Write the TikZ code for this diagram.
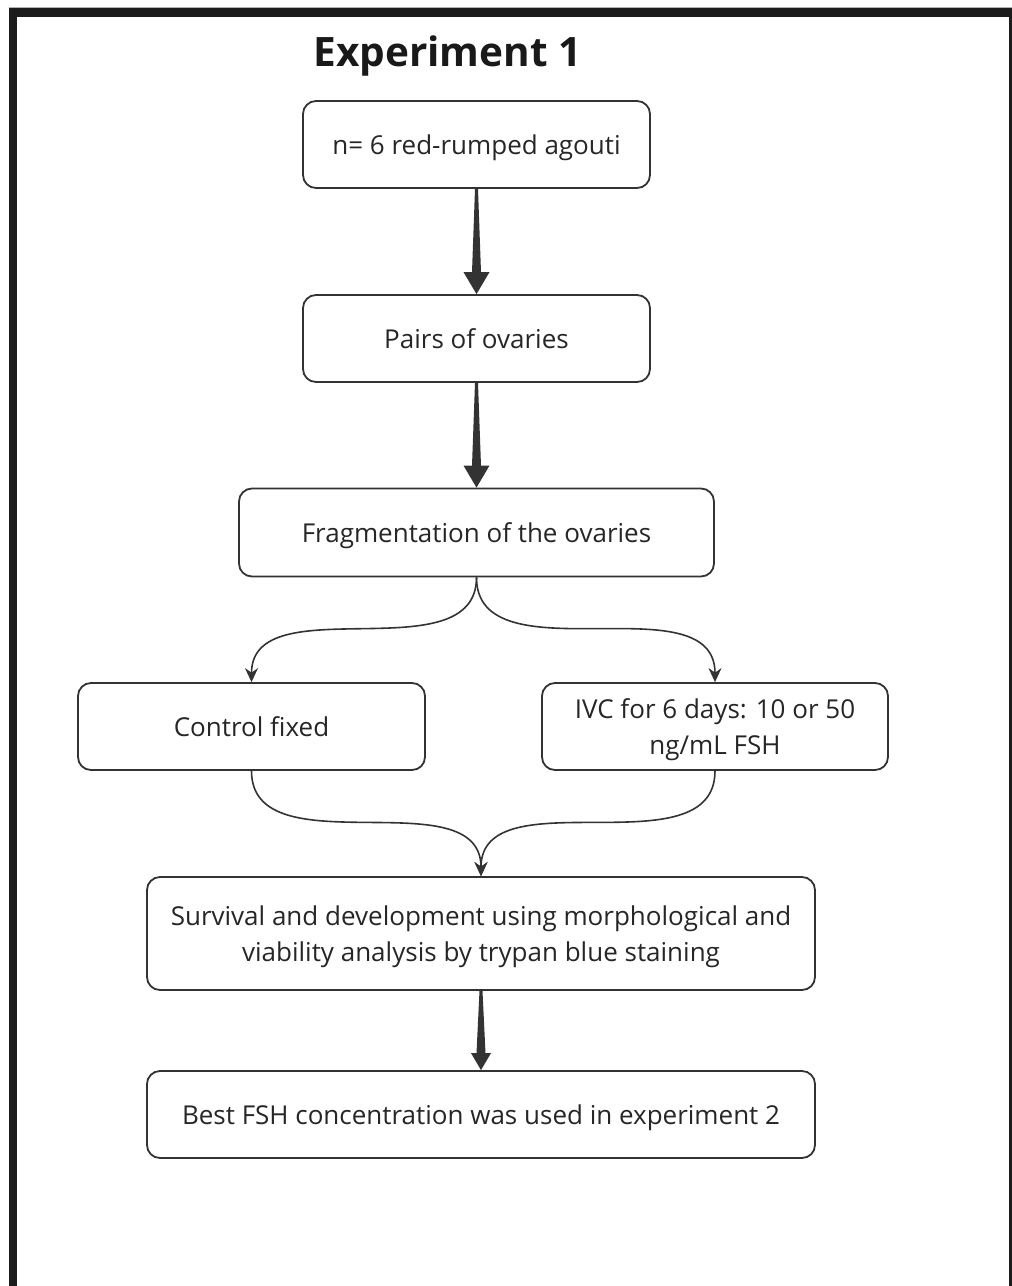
\documentclass[tikz,border=0pt]{standalone}
\usepackage{fontspec}
\setmainfont{Open Sans}
\usetikzlibrary{arrows.meta,calc}

\definecolor{framegray}{HTML}{1C1C1C}
\definecolor{linegray}{HTML}{333333}
\tikzset{
  stepbox/.style={draw=linegray, line width=1.8pt, rounded corners=13pt,
    minimum height=87pt, align=center, text depth=0pt,
    font=\fontsize{26}{36}\selectfont, text=black!85},
  thinarrow/.style={draw=linegray, line width=1.6pt,
    -{Stealth[length=14pt,width=13pt]}},
}
% tapered arrow: from node, to node, head length, head half width
\newcommand{\bigarrow}[4]{%
  \fill[linegray] ($(#1.south)+(-1.5,0)$) -- ($(#2.north)+(-4.5,-#3)$)
    -- ($(#2.north)+(-#4,-#3)$) -- (#2.north) -- ($(#2.north)+(#4,-#3)$)
    -- ($(#2.north)+(4.5,-#3)$) -- ($(#1.south)+(1.5,0)$) -- cycle;}

\begin{document}
\begin{tikzpicture}[x=1pt,y=-1pt]
\useasboundingbox (0,0) rectangle (1012,1286);
%% Frame
\draw[black!30, line width=1pt] (9,7) -- (1012,7);
\fill[framegray] (9,8) rectangle (1012,17);
\fill[framegray] (9,8) rectangle (17,1286);
\fill[framegray] (1009,8) rectangle (1012,1286);

%% Title
\node[anchor=base, font=\fontsize{40.5}{48}\selectfont\bfseries, text=black!90] (title) at (447.5,66) {Experiment 1};

%% Steps
\node[stepbox, minimum width=347pt] (agouti) at (476.5,144.5) {n= 6 red-rumped agouti};
\node[stepbox, minimum width=347pt] (ovaries) at (476.5,338.5) {Pairs of ovaries};
\node[stepbox, minimum width=475pt, minimum height=88pt] (frag) at (476.5,532.5) {Fragmentation of the ovaries};
\node[stepbox, minimum width=347pt] (control) at (251.5,726.5) {Control fixed};
\node[stepbox, minimum width=346pt] (ivc) at (715,726.5) {IVC for 6 days: 10 or 50\\ng/mL FSH};
\node[stepbox, minimum width=668pt, minimum height=113pt] (survival) at (481,933.5)
  {Survival and development using morphological and\\viability analysis by trypan blue staining};
\node[stepbox, minimum width=668pt] (best) at (481,1114.5) {Best FSH concentration was used in experiment 2};

%% Arrows
\bigarrow{agouti}{ovaries}{22}{13}
\bigarrow{ovaries}{frag}{22}{13}
\draw[thinarrow] (frag.south) to[out=-90,in=90] (control.north);
\draw[thinarrow] (frag.south) to[out=-90,in=90] (ivc.north);
\draw[thinarrow] (control.south) to[out=-90,in=90] (survival.north);
\draw[thinarrow] (ivc.south) to[out=-90,in=90] (survival.north);
\bigarrow{survival}{best}{17}{10}
\end{tikzpicture}
\end{document}
